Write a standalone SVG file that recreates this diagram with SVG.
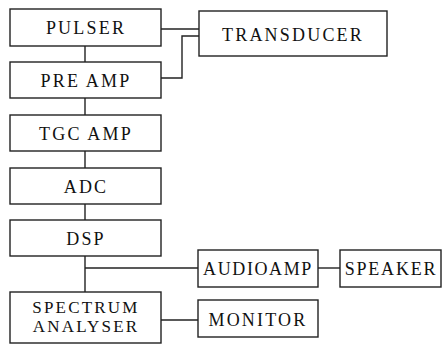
<svg xmlns="http://www.w3.org/2000/svg" width="445" height="345" viewBox="0 0 445 345">
  <style>
    .box { fill: #fff; stroke: #222; stroke-width: 1.4; }
    .lbl { font-family: Times, "Times New Roman", "Liberation Serif", "DejaVu Serif", serif; font-size: 18px; fill: #111; text-anchor: middle; letter-spacing: 2.2px; }
    .wire { fill: none; stroke: #222; stroke-width: 1.4; }
  </style>
  <rect width="445" height="345" fill="#fff"/>

  <!-- connectors -->
  <g id="connectors">
    <path class="wire" d="M85 46 V62"/>
    <path class="wire" d="M85 98 V115"/>
    <path class="wire" d="M85 151 V168"/>
    <path class="wire" d="M85 204 V220"/>
    <path class="wire" d="M85 256 V292"/>
    <path class="wire" d="M85 268 H198"/>
    <path class="wire" d="M161 29 H199"/>
    <path class="wire" d="M161 78 H182 V36 H199"/>
    <path class="wire" d="M318 268 H340"/>
    <path class="wire" d="M161 320 H198"/>
  </g>

  <g id="pulser">
    <rect class="box" x="10" y="9" width="151" height="37"/>
    <text class="lbl" x="86" y="34">PULSER</text>
  </g>
  <g id="transducer">
    <rect class="box" x="199" y="11" width="188" height="45"/>
    <text class="lbl" x="293" y="41" font-size="19">TRANSDUCER</text>
  </g>
  <g id="preamp">
    <rect class="box" x="10" y="62" width="151" height="36"/>
    <text class="lbl" x="86" y="87">PRE AMP</text>
  </g>
  <g id="tgcamp">
    <rect class="box" x="10" y="115" width="151" height="36"/>
    <text class="lbl" x="86" y="140">TGC AMP</text>
  </g>
  <g id="adc">
    <rect class="box" x="10" y="168" width="151" height="36"/>
    <text class="lbl" x="86" y="193">ADC</text>
  </g>
  <g id="dsp">
    <rect class="box" x="10" y="220" width="151" height="36"/>
    <text class="lbl" x="86" y="245">DSP</text>
  </g>
  <g id="audioamp">
    <rect class="box" x="198" y="250" width="120" height="37"/>
    <text class="lbl" x="258" y="275" style="letter-spacing:1.6px">AUDIOAMP</text>
  </g>
  <g id="speaker">
    <rect class="box" x="340" y="250" width="101" height="37"/>
    <text class="lbl" x="391" y="275" style="letter-spacing:1.8px">SPEAKER</text>
  </g>
  <g id="spectrum-analyser">
    <rect class="box" x="10" y="292" width="151" height="51"/>
    <text class="lbl" x="86" y="313" style="font-size:17px">SPECTRUM</text>
    <text class="lbl" x="86" y="332" style="font-size:17px">ANALYSER</text>
  </g>
  <g id="monitor">
    <rect class="box" x="198" y="300" width="120" height="37"/>
    <text class="lbl" x="258" y="326">MONITOR</text>
  </g>
</svg>
